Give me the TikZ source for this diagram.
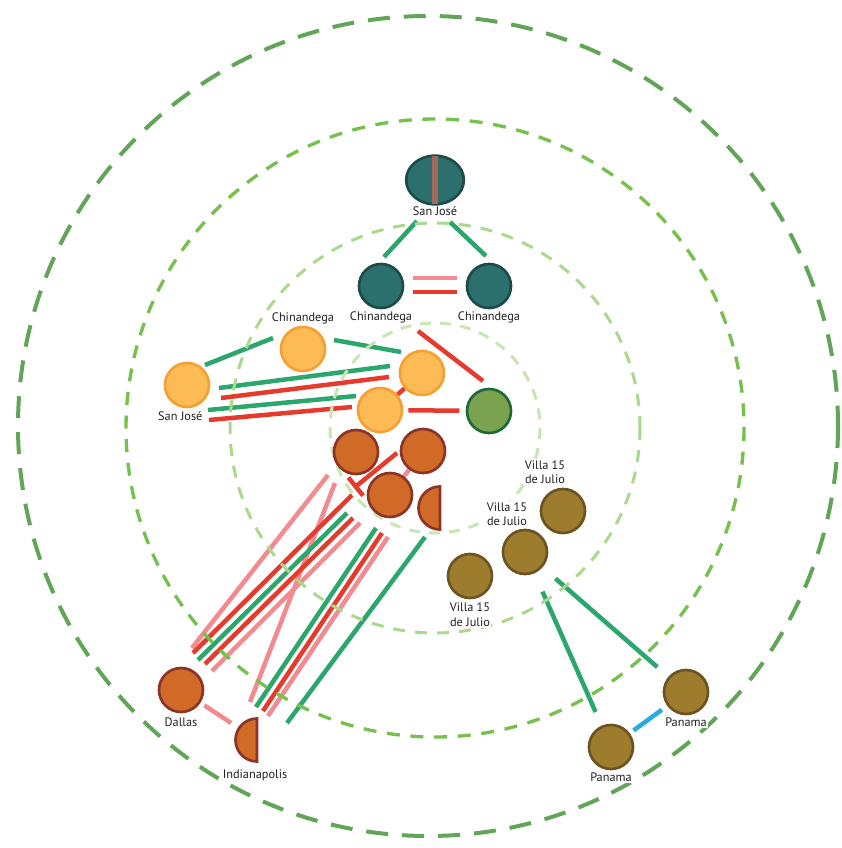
\documentclass[tikz,border=0pt]{standalone}
\usepackage{fontspec}
\setmainfont{PT Sans}
\usetikzlibrary{arrows.meta,positioning,shapes.geometric}
\pgfdeclarelayer{links}
\pgfdeclarelayer{rings}
\pgfsetlayers{links,rings,main}
\definecolor{TealFill}{HTML}{2C706E}
\definecolor{TealLine}{HTML}{1C4B49}
\definecolor{Stripe}{HTML}{A0695C}
\definecolor{SunFill}{HTML}{FDBB55}
\definecolor{SunLine}{HTML}{F5A033}
\definecolor{MossFill}{HTML}{7BA24F}
\definecolor{MossLine}{HTML}{1E6A34}
\definecolor{RustFill}{HTML}{D06A26}
\definecolor{RustLine}{HTML}{8B3427}
\definecolor{OliveFill}{HTML}{9E7C2E}
\definecolor{OliveLine}{HTML}{6B5422}
\definecolor{LinkGreen}{HTML}{2BA66C}
\definecolor{LinkRed}{HTML}{E53A2C}
\definecolor{LinkPink}{HTML}{F28A8F}
\definecolor{LinkBlue}{HTML}{2BAAE2}
\definecolor{RingA}{HTML}{C6E6B3}
\definecolor{RingB}{HTML}{A9D98C}
\definecolor{RingC}{HTML}{76C04E}
\definecolor{RingD}{HTML}{62A458}
\definecolor{Ink}{HTML}{231F20}

\begin{document}
\begin{tikzpicture}[
  x=0.03cm, y=-0.03cm,
  place/.style={circle, line width=0.8mm, minimum size=13.2mm, inner sep=0pt},
  tealnode/.style={place, draw=TealLine, fill=TealFill},
  sunnode/.style={place, draw=SunLine, fill=SunFill},
  mossnode/.style={place, draw=MossLine, fill=MossFill},
  rustnode/.style={place, draw=RustLine, fill=RustFill},
  rusthalf/.style={draw=RustLine, fill=RustFill, line width=0.8mm},
  olivenode/.style={place, draw=OliveLine, fill=OliveFill},
  lbl/.style={font=\fontsize{10.5}{12.5}\selectfont, text=Ink, fill=white, inner sep=1pt, align=center},
  link/.style={line width=1.35mm},
  grn/.style={link, draw=LinkGreen},
  rd/.style={link, draw=LinkRed},
  pk/.style={link, draw=LinkPink},
  bl/.style={link, draw=LinkBlue},
  ring/.style={line width=0.9mm, dash pattern=on 3.6mm off 3mm}
]
\useasboundingbox (0,0) rectangle (841,848);

% places
\node[tealnode, ellipse, minimum width=17.3mm, minimum height=14.6mm] (sj) at (435,180) {};
\draw[Stripe, line width=2mm, shorten <=0.4mm, shorten >=0.4mm] (sj.north) -- (sj.south);
\node[tealnode] (ch1) at (381,286) {};
\node[tealnode] (ch2) at (489,286) {};
\node[sunnode] (yc) at (303,349) {};
\node[sunnode] (ys) at (187,385) {};
\node[sunnode] (yt) at (422,373) {};
\node[sunnode] (ym) at (380,410) {};
\node[mossnode] (gn) at (489,411) {};
\node[rustnode] (oa) at (356,452) {};
\node[rustnode] (ob) at (423,451) {};
\node[rustnode] (oc) at (390,495) {};
\draw[rusthalf] (440,486.5) arc[start angle=90, end angle=270, radius=6.45mm] -- cycle;
\coordinate (od) at (440,508);
\node[rustnode] (dal) at (181,690) {};
\draw[rusthalf] (257,718.5) arc[start angle=90, end angle=270, radius=6.45mm] -- cycle;
\coordinate (ind) at (257,740);
\node[olivenode] (v1) at (563,511) {};
\node[olivenode] (v2) at (525,552) {};
\node[olivenode] (v3) at (470,576) {};
\node[olivenode] (pr) at (686,692) {};
\node[olivenode] (pl) at (611,747) {};

% labels
\node[lbl, below=0pt of sj] (sj-l) {San José};
\node[lbl, below=1pt of ch1] (ch1-l) {Chinandega};
\node[lbl, below=1pt of ch2] (ch2-l) {Chinandega};
\node[lbl, above=0pt of yc] (yc-l) {Chinandega};
\node[lbl, below=2pt of ys, xshift=-2mm] (ys-l) {San José};
\node[lbl, above=2pt of v1, xshift=-5.4mm] (v1-l) {Villa 15\\de Julio};
\node[lbl, above=1pt of v2, xshift=-5.4mm] (v2-l) {Villa 15\\de Julio};
\node[lbl, below=2pt of v3] (v3-l) {Villa 15\\de Julio};
\node[lbl, below=3pt of dal] (dal-l) {Dallas};
\node[lbl] (ind-l) at (255,775) {Indianapolis};
\node[lbl, below=1pt of pr] (pr-l) {Panama};
\node[lbl, below=1pt of pl] (pl-l) {Panama};

% free ends of the links
\path (417,221) coordinate (sjA) (384,257) coordinate (sjB)
      (450,222) coordinate (sjC) (486,256) coordinate (sjD);
\path (205,365) coordinate (yA1) (273,338) coordinate (yA2)
      (334,340) coordinate (yB1) (401,352) coordinate (yB2)
      (219,388) coordinate (yC1) (390,366) coordinate (yC2)
      (221,398) coordinate (yD1) (389,377) coordinate (yD2)
      (208,410) coordinate (yE1) (356,396) coordinate (yE2)
      (209,420) coordinate (yF1) (352,407) coordinate (yF2)
      (418,331) coordinate (yG1) (483,381) coordinate (yG2);
\path (397,453) coordinate (oT1) (354,488) coordinate (oT2)
      (328,475) coordinate (b1a) (192,648) coordinate (b1b)
      (335,483) coordinate (b2a) (250,702) coordinate (b2b)
      (352,495) coordinate (b3a) (193,653) coordinate (b3b)
      (347,513) coordinate (b4a) (198,660) coordinate (b4b)
      (353,518) coordinate (b5a) (205,664) coordinate (b5b)
      (360,523) coordinate (b6a) (212,671) coordinate (b6b)
      (376,528) coordinate (b7a) (256,707) coordinate (b7b)
      (382,533) coordinate (b8a) (263,711) coordinate (b8b)
      (388,537) coordinate (b9a) (268,716) coordinate (b9b)
      (425,537) coordinate (b10a) (287,723) coordinate (b10b);

\begin{pgfonlayer}{links}
\draw[grn] (sjA) -- (sjB);
\draw[grn] (sjC) -- (sjD);
\draw[pk, shorten <=2.5mm, shorten >=2.5mm] ([yshift=2.4mm]ch1.east) -- ([yshift=2.4mm]ch2.west);
\draw[rd, shorten <=2.5mm, shorten >=2.5mm] ([yshift=-1.8mm]ch1.east) -- ([yshift=-1.8mm]ch2.west);
\draw[grn] (yA1) -- (yA2);
\draw[grn] (yB1) -- (yB2);
\draw[grn] (yC1) -- (yC2);
\draw[rd] (yD1) -- (yD2);
\draw[grn] (yE1) -- (yE2);
\draw[rd] (yF1) -- (yF2);
\draw[rd] (yG1) -- (yG2);
\draw[rd, shorten <=1.5mm, shorten >=1.9mm] (ym) -- (gn);
\draw[rd] (ym) -- (yt);
\draw[pk] (ob) -- (oc);
\draw[rd, -{Bar[width=7mm]}] (oT1) -- (oT2);
\draw[pk] (b1a) -- (b1b);
\draw[pk] (b2a) -- (b2b);
\draw[rd] (b3a) -- (b3b);
\draw[grn] (b4a) -- (b4b);
\draw[rd] (b5a) -- (b5b);
\draw[pk] (b6a) -- (b6b);
\draw[grn] (b7a) -- (b7b);
\draw[rd] (b8a) -- (b8b);
\draw[pk] (b9a) -- (b9b);
\draw[grn] (b10a) -- (b10b);
\draw[pk, shorten <=1.4mm, shorten >=9.3mm] (dal) -- (ind);
\draw[grn, shorten <=6mm, shorten >=4.5mm] (v2) -- (pl);
\draw[grn, shorten <=5.1mm, shorten >=4.4mm] (v2) -- (pr);
\draw[bl, shorten <=1.4mm, shorten >=2mm] (pl) -- (pr);
\end{pgfonlayer}

% rings
\begin{pgfonlayer}{rings}
\coordinate (hub) at (435,428);
\draw[ring, RingA, dash pattern=on 3.3mm off 2.7mm] (hub) circle[radius=105];
\draw[ring, RingB] (hub) circle[radius=205];
\draw[ring, RingC, line width=1mm, dash pattern=on 3.9mm off 3.2mm] (hub) circle[radius=309];
\draw[ring, RingD, line width=1.2mm, dash pattern=on 6.6mm off 4.2mm] (428,426) circle[radius=410];
\end{pgfonlayer}
\end{tikzpicture}
\end{document}
